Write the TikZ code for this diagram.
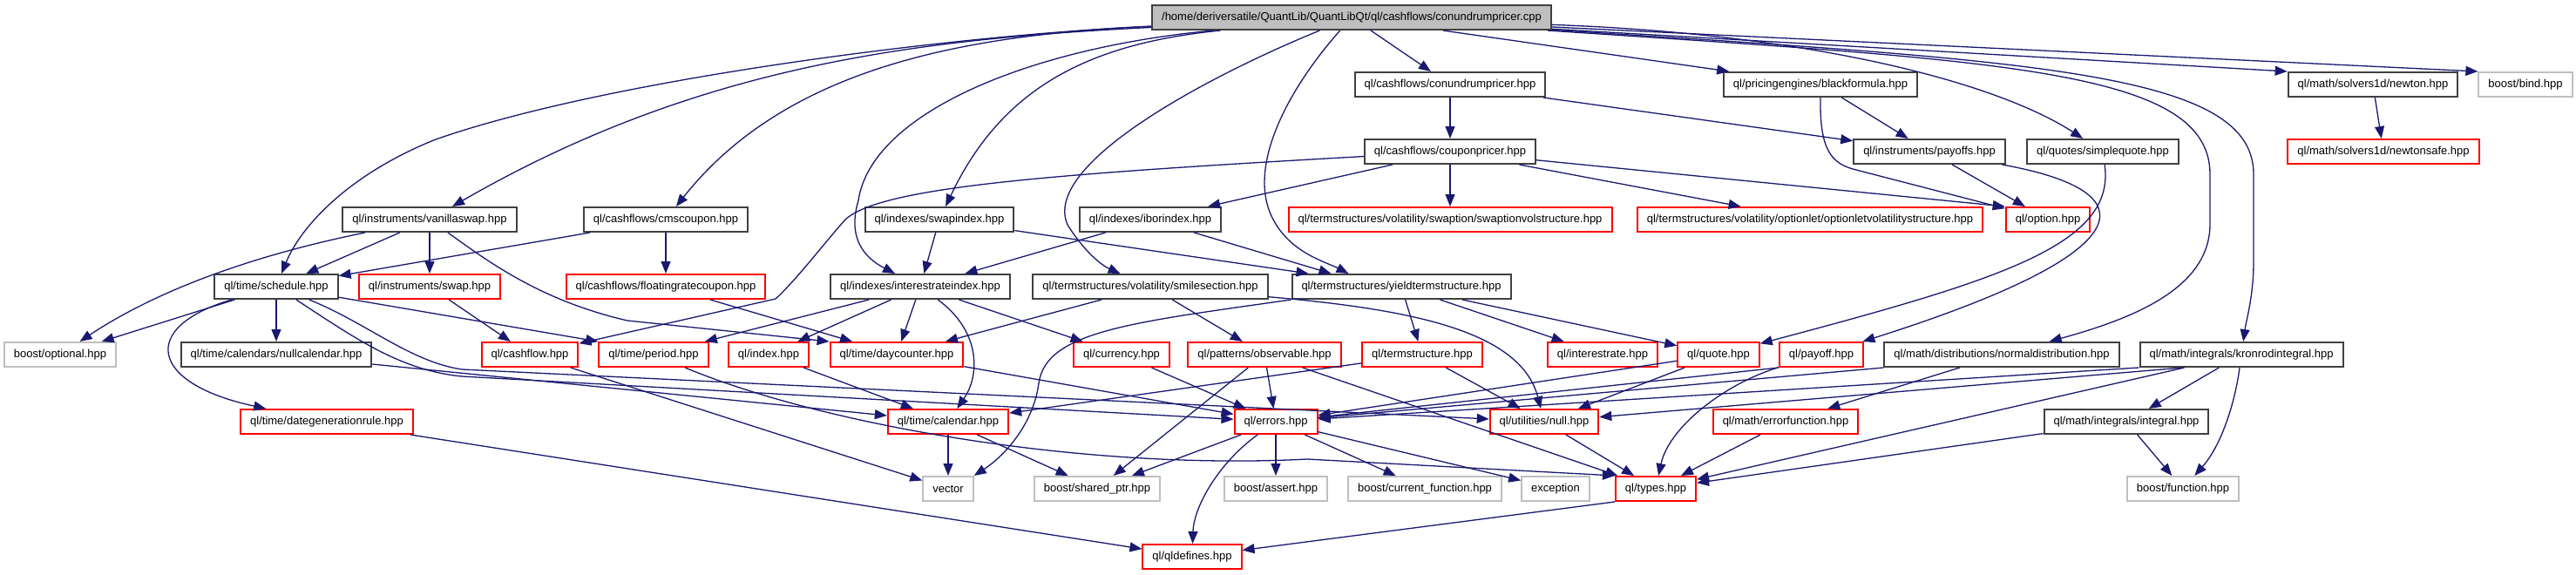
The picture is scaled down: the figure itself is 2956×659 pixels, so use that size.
\documentclass[tikz,border=0pt]{standalone}
\usepackage{fontspec}
\setmainfont{Liberation Sans}
\usetikzlibrary{%
	calc,%
	arrows.meta,%
}
\definecolor{cedge}{RGB}{25, 25, 112}
\definecolor{cframe}{RGB}{64, 64, 64}
\definecolor{cred}{RGB}{255, 0, 0}
\definecolor{cgray}{RGB}{191, 191, 191}
\tikzset{
	>={Triangle[length=7pt,width=5.5pt]},%
	filenode/.style={%
			draw=cframe,%
			rectangle,%
			line width=1pt,%
			minimum height=14pt,%
			inner xsep=5.5pt,%
			inner ysep=0pt,%
			fill=white,%
			font={\fontsize{6.5}{7.8}\selectfont}},%
	rootnode/.style={%
			filenode,%
			fill=cgray},%
	truncnode/.style={%
			filenode,%
			draw=cred},%
	extnode/.style={%
			filenode,%
			draw=cgray},%
	dep/.style={%
			->,%
			draw=cedge,%
			line width=.65pt},%
}

\begin{document}
\begin{tikzpicture}[x=0.5pt, y=-0.5pt]
	\useasboundingbox (0,0) rectangle (2956,659);

	\node[rootnode] (root) at (1551,20) {/home/deriversatile/QuantLib/QuantLibQt/ql/cashflows/conundrumpricer.cpp};

	\node[filenode] (cpricerh) at (1664,97) {ql/cashflows/conundrumpricer.hpp};
	\node[filenode] (blackf) at (2089,97) {ql/pricingengines/blackformula.hpp};
	\node[filenode] (newton) at (2723,97) {ql/math/solvers1d/newton.hpp};
	\node[extnode] (bind) at (2898,97) {boost/bind.hpp};

	\node[filenode] (cpn) at (1664,174) {ql/cashflows/couponpricer.hpp};
	\node[filenode] (payoffs) at (2214,174) {ql/instruments/payoffs.hpp};
	\node[filenode] (squote) at (2413,174) {ql/quotes/simplequote.hpp};
	\node[truncnode] (nsafe) at (2735,174) {ql/math/solvers1d/newtonsafe.hpp};

	\node[filenode] (vswap) at (493,252) {ql/instruments/vanillaswap.hpp};
	\node[filenode] (cms) at (764,252) {ql/cashflows/cmscoupon.hpp};
	\node[filenode] (swidx) at (1078,252) {ql/indexes/swapindex.hpp};
	\node[filenode] (ibor) at (1320,252) {ql/indexes/iborindex.hpp};
	\node[truncnode] (swvol) at (1664,252) {ql/termstructures/volatility/swaption/swaptionvolstructure.hpp};
	\node[truncnode] (olvol) at (2077,252) {ql/termstructures/volatility/optionlet/optionletvolatilitystructure.hpp};
	\node[truncnode] (option) at (2350,252) {ql/option.hpp};

	\node[filenode] (sched) at (317,329) {ql/time/schedule.hpp};
	\node[truncnode] (swap) at (493,329) {ql/instruments/swap.hpp};
	\node[truncnode] (frc) at (764,329) {ql/cashflows/floatingratecoupon.hpp};
	\node[filenode] (iridx) at (1056,329) {ql/indexes/interestrateindex.hpp};
	\node[filenode] (smile) at (1320,329) {ql/termstructures/volatility/smilesection.hpp};
	\node[filenode] (yts) at (1608,329) {ql/termstructures/yieldtermstructure.hpp};

	\node[extnode] (optl) at (69,407) {boost/optional.hpp};
	\node[filenode] (nullcal) at (317,407) {ql/time/calendars/nullcalendar.hpp};
	\node[truncnode] (cflow) at (608,407) {ql/cashflow.hpp};
	\node[truncnode] (period) at (750,407) {ql/time/period.hpp};
	\node[truncnode] (index) at (882,407) {ql/index.hpp};
	\node[truncnode] (dayc) at (1029,407) {ql/time/daycounter.hpp};
	\node[truncnode] (curr) at (1287,407) {ql/currency.hpp};
	\node[truncnode] (obs) at (1451,407) {ql/patterns/observable.hpp};
	\node[truncnode] (tstruct) at (1632,407) {ql/termstructure.hpp};
	\node[truncnode] (irate) at (1839,407) {ql/interestrate.hpp};
	\node[truncnode] (quote) at (1972,407) {ql/quote.hpp};
	\node[truncnode] (payoff) at (2090,407) {ql/payoff.hpp};
	\node[filenode] (normd) at (2297,407) {ql/math/distributions/normaldistribution.hpp};
	\node[filenode] (kronrod) at (2572,407) {ql/math/integrals/kronrodintegral.hpp};

	\node[truncnode] (dgr) at (375,484) {ql/time/dategenerationrule.hpp};
	\node[truncnode] (cal) at (1088,484) {ql/time/calendar.hpp};
	\node[truncnode] (errors) at (1464,484) {ql/errors.hpp};
	\node[truncnode] (nullh) at (1772,484) {ql/utilities/null.hpp};
	\node[truncnode] (erf) at (2049,484) {ql/math/errorfunction.hpp};
	\node[filenode] (integral) at (2440,484) {ql/math/integrals/integral.hpp};

	\node[extnode] (vector) at (1088,561) {vector};
	\node[extnode] (shptr) at (1259,561) {boost/shared\_ptr.hpp};
	\node[extnode] (assert) at (1464,561) {boost/assert.hpp};
	\node[extnode] (curfn) at (1635,561) {boost/current\_function.hpp};
	\node[extnode] (except) at (1785,561) {exception};
	\node[truncnode] (types) at (1900,561) {ql/types.hpp};
	\node[extnode] (bfunc) at (2505,561) {boost/function.hpp};

	\node[truncnode] (qldef) at (1368,639) {ql/qldefines.hpp};

	% includes of the source file
	\draw[dep] (root) to (cpricerh);
	\draw[dep] (root) to (blackf);
	\draw[dep] (root) to (newton.north west);
	\draw[dep] (root) to (bind.north west);
	\draw[dep] (root) .. controls (2100,40) and (2300,100) .. (squote);
	\draw[dep] (root) .. controls (2300,70) and (2536,80) .. (2536,200) -- (2536,257) .. controls (2536,330) and (2450,365) .. (normd);
	\draw[dep] (root) .. controls (2350,70) and (2586,85) .. (2586,200) -- (2586,300) .. controls (2586,340) and (2578,365) .. (kronrod);
	\draw[dep] (root) .. controls (1100,40) and (700,90) .. (500,160) .. controls (400,200) and (345,260) .. (sched);
	\draw[dep] (root) .. controls (1050,45) and (800,75) .. (vswap);
	\draw[dep] (root) .. controls (1100,40) and (900,80) .. (cms);
	\draw[dep] (root) .. controls (1250,50) and (1150,100) .. (swidx);
	\draw[dep] (root) .. controls (1180,55) and (1000,130) .. (985,230) .. controls (970,280) and (1000,300) .. (iridx);
	\draw[dep] (root) .. controls (1380,90) and (1195,190) .. (1225,258) .. controls (1245,290) and (1265,305) .. (smile);
	\draw[dep] (root) .. controls (1480,100) and (1430,190) .. (1460,250) .. controls (1480,290) and (1520,300) .. ($(yts.north west)+(66,0)$);

	\draw[dep] (cpricerh) to (cpn);
	\draw[dep] (cpricerh) to (payoffs);
	\draw[dep] (blackf) to (payoffs);
	\draw[dep] (blackf.south) .. controls (2088,170) and (2100,188) .. (2130,195) -- (option);
	\draw[dep] (newton) to (nsafe);

	\draw[dep] (cpn) .. controls (1200,200) and (1010,215) .. (970,252) .. controls (945,280) and (915,320) .. (890,343) -- (cflow);
	\draw[dep] (cpn) to (ibor);
	\draw[dep] (cpn) to (swvol);
	\draw[dep] (cpn) to (olvol);
	\draw[dep] (cpn) to (option.north west);
	\draw[dep] (payoffs) to (option);
	\draw[dep] (payoffs) .. controls (2470,220) and (2460,290) .. (payoff);
	\draw[dep] (squote) .. controls (2428,280) and (2300,320) .. (quote);

	\draw[dep] (vswap) .. controls (330,285) and (200,320) .. (optl);
	\draw[dep] (vswap) to (sched);
	\draw[dep] (vswap) to (swap);
	\draw[dep] (vswap) .. controls (560,300) and (620,345) .. (720,368) -- (dayc.north west);
	\draw[dep] (cms) to (sched);
	\draw[dep] (cms) to (frc);
	\draw[dep] (swidx) to (iridx);
	\draw[dep] (swidx) to ($(yts.north west)+(20,0)$);
	\draw[dep] (ibor) to (iridx);
	\draw[dep] (ibor) to ($(yts.north west)+(46,0)$);

	\draw[dep] (sched) to (optl);
	\draw[dep] (sched) to (nullcal);
	\draw[dep] (sched) .. controls (160,375) and (170,440) .. ($(dgr.north west)+(30,0)$);
	\draw[dep] (sched) to (period.north west);
	\draw[dep] (sched) .. controls (420,370) and (470,415) .. (530,424) -- (nullh);
	\draw[dep] (sched) .. controls (410,390) and (460,425) .. (530,432) -- (errors);
	\draw[dep] (swap) to (cflow);
	\draw[dep] (frc) to (dayc);
	\draw[dep] (iridx) to (period);
	\draw[dep] (iridx) to (index);
	\draw[dep] (iridx) to (dayc);
	\draw[dep] (iridx) .. controls (1125,380) and (1125,430) .. (cal);
	\draw[dep] (iridx) to (curr);
	\draw[dep] (smile) to (dayc);
	\draw[dep] (smile) to (obs);
	\draw[dep] (smile) .. controls (1620,355) and (1745,380) .. (nullh);
	\draw[dep] (yts) to (tstruct);
	\draw[dep] (yts) to (irate);
	\draw[dep] (yts) to (quote);
	\draw[dep] (yts.south west) .. controls (1300,370) and (1200,380) .. (1192,440) .. controls (1185,490) and (1150,525) .. (vector.north east);

	\draw[dep] (nullcal) to (cal);
	\draw[dep] (cflow) to (vector);
	\draw[dep] (period) .. controls (950,490) and (1250,540) .. (1500,527) -- (types.north west);
	\draw[dep] (index) to (cal);
	\draw[dep] (dayc) to (errors);
	\draw[dep] (curr) to (errors);
	\draw[dep] (obs) to (shptr);
	\draw[dep] (obs) to (errors);
	\draw[dep] (obs) to (types);
	\draw[dep] (tstruct) to (cal);
	\draw[dep] (tstruct) to (nullh);
	\draw[dep] (quote) to (errors);
	\draw[dep] (quote) to (nullh);
	\draw[dep] (payoff.south west) to (errors);
	\draw[dep] (payoff) .. controls (1980,440) and (1915,490) .. (types);
	\draw[dep] (normd.south west) to (errors);
	\draw[dep] (normd) to (erf);
	\draw[dep] (kronrod.south west) to (errors);
	\draw[dep] ($(kronrod.south west)+(50,0)$) to (nullh);
	\draw[dep] (kronrod) to (integral);
	\draw[dep] (kronrod) to (types);
	\draw[dep] (kronrod) .. controls (2565,460) and (2550,510) .. (bfunc);

	\draw[dep] (dgr) to (qldef);
	\draw[dep] (cal) to (vector);
	\draw[dep] (cal) to (shptr);
	\draw[dep] (errors) to (shptr);
	\draw[dep] (errors) to (assert);
	\draw[dep] (errors) to (curfn);
	\draw[dep] (errors) to (except);
	\draw[dep] (errors) .. controls (1400,530) and (1370,580) .. (qldef);
	\draw[dep] (nullh) to (types);
	\draw[dep] (erf) to (types);
	\draw[dep] (integral) to (types);
	\draw[dep] (integral) to (bfunc);
	\draw[dep] (types.south west) to (qldef);
\end{tikzpicture}
\end{document}
